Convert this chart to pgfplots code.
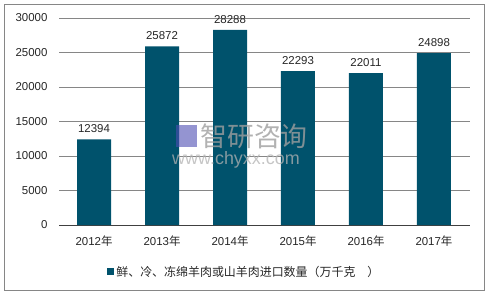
\documentclass[border=0pt]{standalone}
\usepackage{pgfplots}
\pgfplotsset{compat=1.18}
\usepackage{fontspec}
\setmainfont{Liberation Sans}
\newfontfamily\cjk{Noto Sans CJK SC}
\definecolor{barc}{RGB}{0,82,108}
\definecolor{gridc}{RGB}{134,134,134}
\begin{document}
\begin{tikzpicture}[x=1bp,y=1bp]
\path[use as bounding box] (0,0) rectangle (487,295);
\draw[gridc, line width=0.8bp] (4.5,4.5) rectangle (484.5,290.5);
\begin{axis}[
  at={(59bp,70bp)}, anchor=south west,
  scale only axis, width=411bp, height=207bp,
  xmin=-0.515, xmax=5.53, ymin=0, ymax=30000,
  ybar, bar width=34bp,
  axis x line*=bottom, axis y line*=left,
  y axis line style={draw=none},
  x axis line style={black!75, line width=0.8bp},
  xtick=data,
  xticklabels={2012{\cjk 年},2013{\cjk 年},2014{\cjk 年},2015{\cjk 年},2016{\cjk 年},2017{\cjk 年}},
  xtick style={draw=none},
  ytick={0,5000,...,30000},
  ymajorgrids, grid style={gridc, line width=0.8bp},
  ytick style={draw=none},
  yticklabel style={xshift=-8bp},
  scaled y ticks=false,
  /pgf/number format/assume math mode=true,
  yticklabel={\pgfmathprintnumber[fixed,1000 sep={}]{\tick}},
  ticklabel style={font=\fontsize{11.5}{13}\selectfont, text=black!85},
  xticklabel style={yshift=-3bp},
  nodes near coords,
  every node near coord/.append style={font=\fontsize{11.5}{13}\selectfont, text=black!85, yshift=3bp,
    /pgf/number format/fixed, /pgf/number format/1000 sep={}},
  legend style={at={(0.451,-0.227)}, anchor=center, draw=none, fill=none,
    font=\fontsize{12}{13}\selectfont\cjk, text=black!85},
  legend image code/.code={\fill[barc] (0bp,-3.5bp) rectangle (7bp,3.5bp);},
]
\addplot[fill=barc, draw=none] coordinates {(0,12394) (1,25872) (2,28288) (3,22293) (4,22011) (5,24898)};
\addlegendentry{鲜、冷、冻绵羊肉或山羊肉进口数量（万千克\quad ）}
\end{axis}
\node[anchor=west, inner sep=0pt, text=gray!75, opacity=0.8, font=\fontsize{27}{28}\selectfont\cjk] at (200,159) {智研咨询};
\node[anchor=west, inner sep=0pt, text=gray!60, opacity=0.75, font=\fontsize{18}{19}\selectfont] at (172,135) {www.chyxx.com};
\fill[blue!40!gray, opacity=0.6] (176,148) rectangle (197,170);
\end{tikzpicture}
\end{document}
